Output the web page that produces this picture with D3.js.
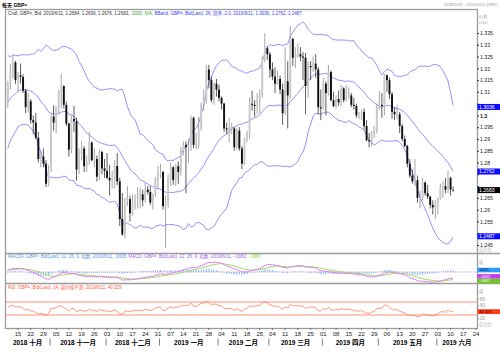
<!DOCTYPE html>
<html>
<head>
<meta charset="utf-8">
<script src="https://cdn.jsdelivr.net/npm/d3@7"></script>
<style>
body { margin: 0; background: #fff; }
svg { display: block; font-family: "Liberation Sans", Arial, "Noto Sans CJK SC", sans-serif; }
</style>
</head>
<body>
<div id="chart"></div>
<script>
// trading days run Mon-Fri from firstDay to lastDay, the axis goes on to axisEnd
var firstDay = "2018-10-09", lastDay = "2019-06-11", axisEnd = "2019-06-24";

// daily GBP= bid, Oct / Nov / Dec / Jan / Feb / Mar / Apr / May / Jun
var open = [
  1.3065,1.3135,1.3185,1.3225,1.3150,1.3170,1.3163,1.3105,1.3035,1.3060,1.2980,1.2970,1.2905,1.2815,1.2825,1.2795,1.2710,
  1.2765,1.2995,1.2970,1.3040,1.3100,1.3125,1.3045,1.2965,1.2855,1.2985,1.2975,1.2770,1.2835,1.2860,1.2785,1.2805,1.2885,1.2810,1.2815,1.2740,1.2845,1.2775,
  1.2765,1.2735,1.2725,1.2735,1.2785,1.2720,1.2560,1.2495,1.2635,1.2645,1.2585,1.2635,1.2645,1.2650,1.2665,1.2640,1.2685,1.2675,1.2630,1.2665,1.2725,
  1.2750,1.2760,1.2615,1.2635,1.2730,1.2780,1.2725,1.2785,1.2760,1.2850,1.2875,1.2865,1.2875,1.2990,1.2875,1.2875,1.2945,1.3045,1.3065,1.3195,1.3150,1.3065,1.3135,
  1.3110,1.3075,1.3050,1.2945,1.2940,1.2945,1.2945,1.2865,1.2935,1.2860,1.2795,1.2900,1.2925,1.3050,1.3045,1.3040,1.3070,1.3085,1.3245,1.3285,
  1.3260,1.3195,1.3165,1.3135,1.3155,1.3110,1.3010,1.3145,1.3085,1.3325,1.3245,1.3260,1.3260,1.3250,1.3245,1.3125,1.3210,1.3205,1.3220,1.3195,1.3035,
  1.3030,1.3135,1.3095,1.3185,1.3065,1.3040,1.3070,1.3055,1.3115,1.3065,1.3085,1.3085,1.3045,1.3040,1.3000,1.3000,1.3015,1.2955,1.2895,1.2890,1.2925,1.2935,
  1.3035,1.3045,1.3040,1.3170,1.3150,1.3090,1.3015,1.3005,1.3005,1.2955,1.2900,1.2870,1.2795,1.2745,1.2720,1.2725,1.2650,1.2650,1.2715,1.2670,1.2655,1.2620,1.2610,
  1.2630,1.2645,1.2695,1.2700,1.2685,1.2735,1.2684
];
var high = [
  1.3147,1.3220,1.3258,1.3232,1.3185,1.3220,1.3175,1.3112,1.3095,1.3070,1.3000,1.3010,1.2930,1.2850,1.2860,1.2810,1.2790,
  1.3008,1.3043,1.3040,1.3110,1.3175,1.3128,1.3060,1.2970,1.3000,1.3040,1.2990,1.2860,1.2890,1.2870,1.2830,1.2930,1.2890,1.2860,1.2830,1.2855,1.2850,1.2815,
  1.2840,1.2790,1.2765,1.2810,1.2840,1.2735,1.2670,1.2650,1.2700,1.2660,1.2665,1.2665,1.2695,1.2695,1.2685,1.2715,1.2700,1.2700,1.2670,1.2740,1.2785,
  1.2795,1.2765,1.2660,1.2750,1.2800,1.2785,1.2795,1.2805,1.2865,1.2890,1.2890,1.2900,1.3000,1.2995,1.2925,1.2995,1.3055,1.3110,1.3215,1.3215,1.3165,1.3140,1.3155,
  1.3130,1.3080,1.3055,1.2970,1.2990,1.2970,1.2950,1.2945,1.2950,1.2870,1.2905,1.2935,1.3075,1.3105,1.3065,1.3095,1.3110,1.3250,1.3350,1.3295,
  1.3270,1.3225,1.3205,1.3190,1.3170,1.3135,1.3290,1.3230,1.3380,1.3330,1.3290,1.3305,1.3290,1.3270,1.3265,1.3230,1.3230,1.3250,1.3260,1.3205,1.3110,
  1.3160,1.3145,1.3215,1.3190,1.3100,1.3085,1.3105,1.3130,1.3120,1.3130,1.3120,1.3095,1.3075,1.3050,1.3015,1.3025,1.3030,1.2980,1.2925,1.2935,1.2955,1.3050,
  1.3105,1.3095,1.3176,1.3175,1.3160,1.3100,1.3035,1.3045,1.3015,1.2965,1.2915,1.2875,1.2815,1.2770,1.2815,1.2745,1.2680,1.2735,1.2720,1.2705,1.2660,1.2640,1.2640,
  1.2650,1.2710,1.2720,1.2735,1.2765,1.2740,1.2699
];
var low = [
  1.3032,1.3110,1.3158,1.3134,1.3100,1.3135,1.3095,1.3010,1.3015,1.2965,1.2920,1.2900,1.2800,1.2780,1.2780,1.2696,1.2700,
  1.2760,1.2935,1.2925,1.3005,1.3030,1.3030,1.2955,1.2825,1.2840,1.2930,1.2724,1.2750,1.2810,1.2760,1.2760,1.2790,1.2805,1.2780,1.2720,1.2725,1.2750,1.2735,
  1.2730,1.2660,1.2690,1.2690,1.2705,1.2530,1.2490,1.2477,1.2615,1.2550,1.2575,1.2600,1.2605,1.2605,1.2615,1.2630,1.2665,1.2620,1.2600,1.2655,1.2690,
  1.2735,1.2600,1.2438,1.2610,1.2700,1.2705,1.2700,1.2710,1.2745,1.2830,1.2670,1.2800,1.2850,1.2860,1.2855,1.2860,1.2935,1.3020,1.3050,1.3115,1.3055,1.3045,1.3080,
  1.3060,1.3025,1.2930,1.2920,1.2885,1.2920,1.2850,1.2855,1.2850,1.2772,1.2790,1.2885,1.2900,1.3020,1.2995,1.3005,1.3010,1.3075,1.3225,1.3235,
  1.3160,1.3150,1.3095,1.3130,1.3090,1.2960,1.3000,1.2945,1.3070,1.3210,1.3200,1.3245,1.3230,1.3150,1.3005,1.3075,1.3150,1.3185,1.3160,1.3005,1.2980,
  1.3025,1.3000,1.3085,1.3060,1.3035,1.3030,1.3040,1.3040,1.3055,1.3060,1.3070,1.3035,1.3025,1.2990,1.2985,1.2980,1.2940,1.2890,1.2865,1.2870,1.2905,1.2925,
  1.3025,1.2990,1.3000,1.3100,1.3070,1.2985,1.2980,1.2985,1.2925,1.2890,1.2865,1.2780,1.2735,1.2710,1.2700,1.2630,1.2605,1.2640,1.2660,1.2645,1.2605,1.2580,1.2560,
  1.2580,1.2640,1.2650,1.2670,1.2670,1.2660,1.2676
];
var close = [
  1.3135,1.3185,1.3225,1.3150,1.3170,1.3163,1.3105,1.3035,1.3060,1.2980,1.2970,1.2905,1.2815,1.2825,1.2795,1.2710,1.2765,
  1.2995,1.2970,1.3040,1.3100,1.3125,1.3045,1.2965,1.2855,1.2985,1.2975,1.2770,1.2835,1.2860,1.2785,1.2805,1.2885,1.2810,1.2815,1.2740,1.2845,1.2775,1.2765,
  1.2735,1.2725,1.2735,1.2785,1.2720,1.2560,1.2495,1.2635,1.2645,1.2585,1.2635,1.2645,1.2650,1.2665,1.2640,1.2685,1.2675,1.2630,1.2665,1.2725,1.2750,
  1.2760,1.2615,1.2635,1.2730,1.2780,1.2725,1.2785,1.2760,1.2850,1.2875,1.2865,1.2875,1.2990,1.2875,1.2875,1.2945,1.3045,1.3065,1.3195,1.3150,1.3065,1.3135,1.3110,
  1.3075,1.3050,1.2945,1.2940,1.2945,1.2945,1.2865,1.2935,1.2860,1.2795,1.2900,1.2925,1.3050,1.3045,1.3040,1.3070,1.3085,1.3245,1.3285,1.3260,
  1.3195,1.3165,1.3135,1.3155,1.3110,1.3010,1.3145,1.3085,1.3325,1.3245,1.3260,1.3260,1.3250,1.3245,1.3125,1.3210,1.3205,1.3220,1.3195,1.3035,1.3030,
  1.3135,1.3095,1.3185,1.3065,1.3040,1.3070,1.3055,1.3115,1.3065,1.3085,1.3085,1.3045,1.3040,1.3000,1.3000,1.3015,1.2955,1.2895,1.2890,1.2925,1.2935,1.3035,
  1.3045,1.3040,1.3170,1.3150,1.3090,1.3015,1.3005,1.3005,1.2955,1.2900,1.2870,1.2795,1.2745,1.2720,1.2725,1.2650,1.2650,1.2715,1.2670,1.2655,1.2620,1.2610,1.2630,
  1.2645,1.2695,1.2700,1.2685,1.2735,1.2685,1.2683
];
// closes before the visible window (Aug 1 - Oct 8 2018), only to start the indicators
var warmupClose = [
  1.3125,1.3005,1.3005,1.2945,1.2925,1.2895,1.2830,1.2760,1.2780,1.2740,1.2710,1.2725,1.2735,1.2800,1.2905,1.2895,1.2825,1.2840,1.2885,1.2940,1.3020,1.3005,1.2965,
  1.2860,1.2815,1.2900,1.2925,1.2930,1.3035,1.3045,1.3040,1.3115,1.3075,1.3145,1.3135,1.3140,1.3270,1.3075,1.3125,1.3195,1.3160,1.3055,1.3030,
  1.3045,1.2970,1.2955,1.3015,1.3110,1.3065
];

var bbPeriod = 26, bbWidth = 2.0;
var macdFast = 12, macdSlow = 26, macdSignal = 9, rsiPeriod = 14;

var priceTicks = [1.245,1.25,1.255,1.26,1.265,1.27,1.275,1.28,1.285,1.29,1.295,1.3,1.305,1.31,1.315,1.32,1.325,1.33,1.335];
var rsiLevels = [70, 30];
var rsiTicks = [20, 60, 80];
var weekTicks = ["2018-10-15","2018-10-22","2018-10-29","2018-11-05","2018-11-12","2018-11-19","2018-11-26","2018-12-03","2018-12-10","2018-12-17","2018-12-24","2018-12-31",
  "2019-01-07","2019-01-14","2019-01-21","2019-01-28","2019-02-04","2019-02-11","2019-02-18","2019-02-25","2019-03-04","2019-03-11","2019-03-18","2019-03-25",
  "2019-04-01","2019-04-08","2019-04-15","2019-04-22","2019-04-29","2019-05-06","2019-05-13","2019-05-20","2019-05-27","2019-06-03","2019-06-10","2019-06-17","2019-06-24"];
var monthStarts = ["2018-10-09","2018-11-01","2018-12-03","2019-01-01","2019-02-01","2019-03-01","2019-04-01","2019-05-01","2019-06-03"];
var monthNames = ["2018 十月","2018 十一月","2018 十二月","2019 一月","2019 二月","2019 三月","2019 四月","2019 五月","2019 六月"];

// texts as shown in the chart
var priceLegend = ["Cndl, GBP=, Bid, 2019/6/11, 1.2684, 1.2699, 1.2676, 1.2683, ", ".0000, N/A, ", "BBand, GBP=, Bid(Last), 26, 简单, 2.0, 2019/6/11, 1.3036, 1.2762, 1.2487"];
var macdLegend = ["MACDF, GBP=, Bid(Last), 12, 26, 9, 指数, 2019/6/11, .0005, ", "MACD, GBP=, Bid(Last), 12, 26, 9, 指数, 2019/6/11, -.0062, ", "-.0067"];
var rsiLegend = "RSI, GBP=, Bid(Last), 14, 威尔德平滑, 2019/6/11, 40.329";
var priceTags = [1.3036, 1.2762, 1.2487];
var lastPrice = 1.2683;
var macdTags = [0.0005, -0.0062, -0.0067];
var macdTagText = [".0005", "-.0062", "-.0067"];
var rsiTag = 40.329;

var parse = d3.timeParse("%Y-%m-%d");
var start = parse(firstDay);

function weekdayIndex(ds) {
    var n = 0;
    d3.timeDay.range(start, parse(ds)).forEach(function (t) {
        if (t.getDay() != 0 && t.getDay() != 6) n++;
    });
    return n;
}

var allClose = warmupClose.concat(close);
var off = warmupClose.length;

function ema(values, n) {
    var k = 2 / (n + 1), out = [values[0]];
    for (var i = 1; i < values.length; i++) out[i] = values[i] * k + out[i - 1] * (1 - k);
    return out;
}

// bollinger
var bb = close.map(function (c, i) {
    var w = allClose.slice(i + off - bbPeriod + 1, i + off + 1);
    var m = d3.mean(w);
    var sd = Math.sqrt(d3.mean(w, function (v) { return (v - m) * (v - m); }));
    return { mid: m, up: m + bbWidth * sd, lo: m - bbWidth * sd };
});

// macd
var e1 = ema(allClose, macdFast), e2 = ema(allClose, macdSlow);
var macdAll = e1.map(function (v, i) { return v - e2[i]; });
var sigAll = ema(macdAll, macdSignal);
var macd = macdAll.slice(off), signal = sigAll.slice(off);
var hist = macd.map(function (v, i) { return v - signal[i]; });

// rsi, wilder smoothing
var rsiAll = [], ag = 0, al = 0;
for (var i = 1; i < allClose.length; i++) {
    var ch = allClose[i] - allClose[i - 1];
    var g = ch > 0 ? ch : 0, l = ch < 0 ? -ch : 0;
    if (i <= rsiPeriod) {
        ag += g / rsiPeriod; al += l / rsiPeriod;
    } else {
        ag = (ag * (rsiPeriod - 1) + g) / rsiPeriod;
        al = (al * (rsiPeriod - 1) + l) / rsiPeriod;
    }
    rsiAll[i] = i >= rsiPeriod ? 100 - 100 / (1 + ag / al) : null;
}
var rsi = rsiAll.slice(off);

var left = 5, right = 477;
var priceTop = 9, macdTop = 253, rsiTop = 283, bottom = 328;

var x = d3.scaleLinear()
    .domain([weekdayIndex(weekTicks[0]), weekdayIndex(axisEnd)])
    .range([18, 476]);
var y = d3.scaleLinear().domain([1.245, 1.335]).range([245, 33]);
var yMacd = d3.scaleLinear().domain([-0.01, 0.01]).range([281.5, 262.5]);
var yRsi = d3.scaleLinear().domain([0, 100]).range([324.75, 292.25]);

var svg = d3.select("#chart").append("svg")
    .attr("width", 500)
    .attr("height", 352);

var defs = svg.append("defs");
[["clipPrice", priceTop, macdTop], ["clipMacd", macdTop, rsiTop], ["clipRsi", rsiTop, bottom]].forEach(function (c) {
    defs.append("clipPath").attr("id", c[0]).append("rect")
        .attr("x", left + 1).attr("y", c[1] + 1)
        .attr("width", right - left - 1).attr("height", c[2] - c[1] - 1);
});

// title
svg.append("text").attr("x", 2).attr("y", 7)
    .style("font-size", "5px").style("font-weight", "bold")
    .text("每天 GBP=");
svg.append("text").attr("x", 498).attr("y", 6)
    .style("font-size", "4.2px").style("fill", "#9a9a9a").style("text-anchor", "end")
    .text("2018/10/9 - 2019/6/24 (GMT)");

// frame
svg.append("rect").attr("x", left + 0.5).attr("y", priceTop + 0.5)
    .attr("width", right - left).attr("height", bottom - priceTop)
    .style("fill", "none").style("stroke", "#9c9c9c").style("stroke-width", 1.3);
[macdTop, rsiTop].forEach(function (yy) {
    svg.append("line").attr("x1", left).attr("x2", 500).attr("y1", yy + 0.5).attr("y2", yy + 0.5)
        .style("stroke", "#9c9c9c").style("stroke-width", 1.4);
});

// price panel
var gp = svg.append("g").attr("clip-path", "url(#clipPrice)");

["up", "mid", "lo"].forEach(function (k) {
    gp.append("path")
        .datum(bb)
        .attr("d", d3.line()
            .x(function (d, i) { return x(i); })
            .y(function (d) { return y(d[k]); }))
        .style("fill", "none").style("stroke", "#8585ff").style("stroke-width", 0.9);
});

var candle = gp.selectAll(".candle")
    .data(close)
    .enter().append("g")
    .attr("class", "candle");

candle.append("line")
    .attr("x1", function (d, i) { return x(i); })
    .attr("x2", function (d, i) { return x(i); })
    .attr("y1", function (d, i) { return y(high[i]); })
    .attr("y2", function (d, i) { return y(low[i]); })
    .style("stroke", function (d, i) { return d >= open[i] ? "#8e8e8e" : "#333"; })
    .style("stroke-width", 0.8);

candle.append("rect")
    .attr("x", function (d, i) { return x(i) - 0.95; })
    .attr("width", 1.9)
    .attr("y", function (d, i) { return y(Math.max(d, open[i])); })
    .attr("height", function (d, i) { return Math.max(0.6, Math.abs(y(d) - y(open[i]))); })
    .style("fill", function (d, i) { return d >= open[i] ? "#c9c9c9" : "#111"; });

// macd panel
var gm = svg.append("g").attr("clip-path", "url(#clipMacd)");
gm.selectAll(".hbar")
    .data(hist)
    .enter().append("line")
    .attr("class", "hbar")
    .attr("x1", function (d, i) { return x(i); })
    .attr("x2", function (d, i) { return x(i); })
    .attr("y1", yMacd(0))
    .attr("y2", function (d) { return yMacd(d); })
    .style("stroke", "#62aef5").style("stroke-width", 0.8);
gm.append("line").attr("x1", left).attr("x2", right).attr("y1", yMacd(0)).attr("y2", yMacd(0))
    .style("stroke", "#a060e0").style("stroke-width", 0.7).style("stroke-dasharray", "1,1");
gm.append("path").datum(signal)
    .attr("d", d3.line().x(function (d, i) { return x(i); }).y(function (d) { return yMacd(d); }))
    .style("fill", "none").style("stroke", "#9edc5a").style("stroke-width", 1);
gm.append("path").datum(macd)
    .attr("d", d3.line().x(function (d, i) { return x(i); }).y(function (d) { return yMacd(d); }))
    .style("fill", "none").style("stroke", "#e07cf0").style("stroke-width", 1);

// rsi panel
var gr = svg.append("g").attr("clip-path", "url(#clipRsi)");
rsiLevels.forEach(function (v) {
    gr.append("line").attr("x1", left).attr("x2", right).attr("y1", yRsi(v)).attr("y2", yRsi(v))
        .style("stroke", "#ffb6a6").style("stroke-width", 1.6);
});
gr.append("path").datum(rsi)
    .attr("d", d3.line()
        .defined(function (d) { return d != null; })
        .x(function (d, i) { return x(i); })
        .y(function (d) { return yRsi(d); }))
    .style("fill", "none").style("stroke", "#ff7a5c").style("stroke-width", 0.8);

// legends
function legend(yy, parts, colors) {
    var t = svg.append("text").attr("x", 8).attr("y", yy).style("font-size", "4.5px");
    parts.forEach(function (p, i) {
        t.append("tspan").text(p).style("fill", colors[i]).attr("xml:space", "preserve");
    });
}
legend(14.5, priceLegend, ["#333", "#3fa63f", "#3a3af0"]);
legend(258, macdLegend, ["#4a9be8", "#9a68e0", "#7cc832"]);
legend(288.5, [rsiLegend], ["#ff5a3a"]);

// price axis, labels hidden where a value tag sits on top of them
var tagYs = priceTags.concat([lastPrice]).map(function (v) { return y(v); });
var yAxis = svg.append("g")
    .attr("transform", "translate(" + right + ",0)")
    .call(d3.axisRight(y).tickValues(priceTicks).tickSize(2).tickPadding(1).tickFormat(d3.format(".3~f")));
yAxis.select(".domain").remove();
yAxis.selectAll("text").style("font-size", "5.2px").style("fill", "#222")
    .style("font-weight", function (d) { return d == 1.3 ? "bold" : "normal"; })
    .style("display", function (d) {
        var yy = y(d);
        return tagYs.some(function (t) { return Math.abs(t - yy) < 5.2; }) ? "none" : null;
    });
yAxis.selectAll("line").style("stroke", "#333");

function small(xx, yy, s) {
    svg.append("text").attr("x", xx).attr("y", yy).style("font-size", "4.2px").style("fill", "#aaa").text(s);
}
small(479, 17.5, "价格");
small(479, 24, "USD");
small(479, 251, "百分比");
small(479, 264, "值");
small(479, 293, "值");
small(479, 326, "百分比");

var rAxis = svg.append("g")
    .attr("transform", "translate(" + right + ",0)")
    .call(d3.axisRight(yRsi).tickValues(rsiTicks).tickSize(2).tickPadding(1));
rAxis.select(".domain").remove();
rAxis.selectAll("text").style("font-size", "4.5px").style("fill", "#999");
rAxis.selectAll("line").style("stroke", "#999");

function tag(yy, s, bg, fg, h) {
    svg.append("rect").attr("x", right + 0.5).attr("y", yy - h / 2).attr("width", 22.5).attr("height", h)
        .style("fill", bg);
    svg.append("text").attr("x", right + 2).attr("y", yy + h * 0.3)
        .style("font-size", (h * 0.85) + "px").style("fill", fg).text(s);
}
priceTags.forEach(function (v) { tag(y(v), d3.format(".4f")(v), "#0a0aff", "#fff", 6); });
tag(y(lastPrice), d3.format(".4f")(lastPrice), "#000", "#fff", 6);

// macd tags stacked so they do not overlap
var my = macdTags.map(function (v) { return yMacd(v); });
for (var j = 1; j < my.length; j++) my[j] = Math.max(my[j], my[j - 1] + 4.6);
var shift = Math.min(0, 281 - my[my.length - 1]);
var macdColors = [["#2a9af5", "#102040"], ["#c23cf0", "#fff"], ["#6cc81e", "#fff"]];
my.forEach(function (yy, j) { tag(yy + shift, macdTagText[j], macdColors[j][0], macdColors[j][1], 4.6); });
tag(yRsi(rsiTag), d3.format(".3f")(rsiTag), "#ff3a16", "#300", 4.8);

// time axis
weekTicks.forEach(function (ds) {
    var xx = x(weekdayIndex(ds));
    svg.append("line").attr("x1", xx).attr("x2", xx).attr("y1", bottom).attr("y2", bottom + 2)
        .style("stroke", "#444").style("stroke-width", 0.6);
    svg.append("text").attr("x", xx).attr("y", 335.5)
        .style("font-size", "6px").style("fill", "#222").style("text-anchor", "middle")
        .text(d3.timeFormat("%d")(parse(ds)));
});
monthStarts.forEach(function (ds, i) {
    var x0 = x(weekdayIndex(ds)) - 1;
    var x1 = i < monthStarts.length - 1 ? x(weekdayIndex(monthStarts[i + 1])) - 1 : right;
    if (i > 0) {
        svg.append("line").attr("x1", x0).attr("x2", x0).attr("y1", 338.5).attr("y2", 345.5)
            .style("stroke", "#444").style("stroke-width", 0.7);
    } else {
        x0 = left;
    }
    svg.append("text").attr("x", (x0 + x1) / 2).attr("y", 345)
        .style("font-size", "6.5px").style("font-weight", "bold").style("text-anchor", "middle")
        .text(monthNames[i]);
});
</script>
</body>
</html>
